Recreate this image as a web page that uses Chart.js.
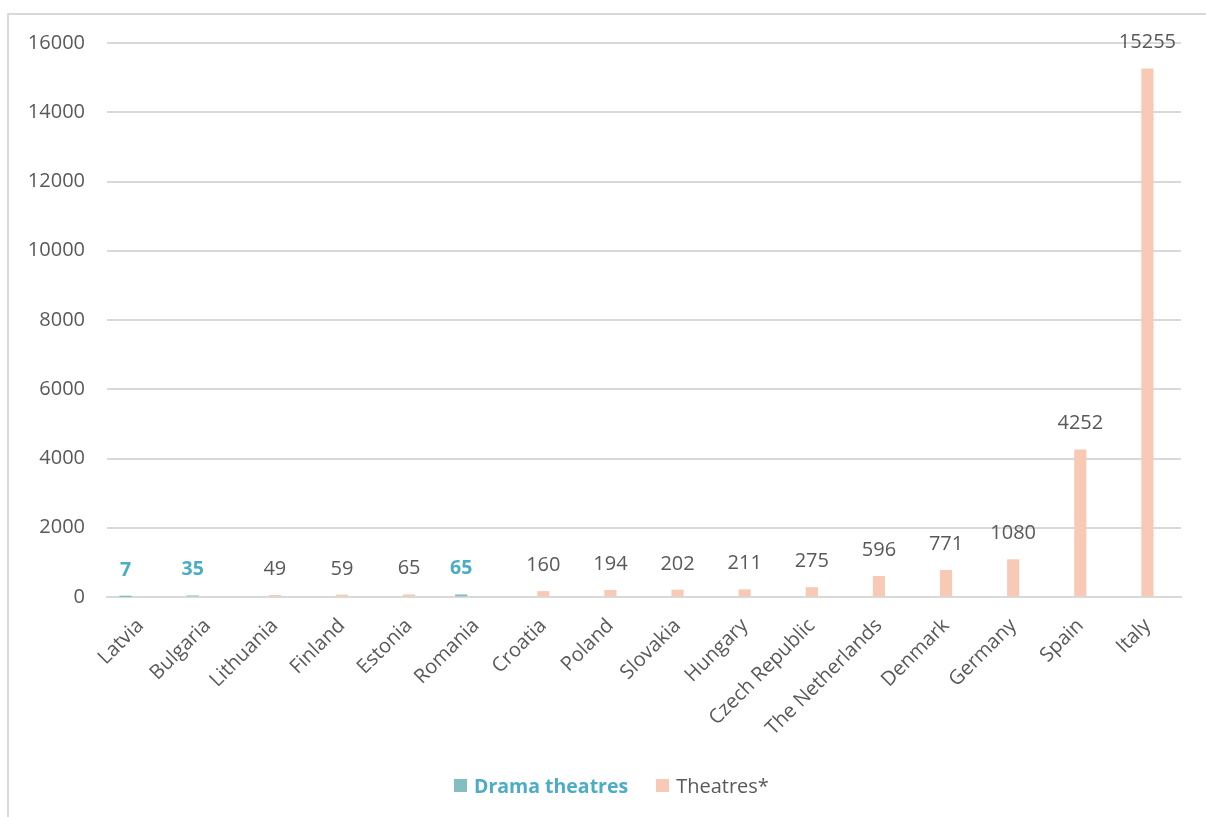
<!DOCTYPE html>
<html>
<head>
<meta charset="utf-8">
<script src="https://cdn.jsdelivr.net/npm/chart.js@4.4.0/dist/chart.umd.min.js"></script>
<style>
  html, body { margin: 0; padding: 0; background: #fff; overflow: hidden; }
  #frame {
    position: absolute; left: 7px; top: 13px; width: 1220px; height: 830px;
    border: 2px solid #d9d9d9; box-sizing: border-box;
  }
  #wrap { position: absolute; left: 0; top: 0; width: 1206px; height: 817px; }
  #legend {
    position: absolute; left: 454px; top: 772px;
    font-family: "Open Sans", sans-serif; font-size: 20px; color: #595959;
    display: flex; align-items: center;
  }
  .box { display: inline-block; width: 13px; height: 13px; margin-right: 7px; }
  .item { display: flex; align-items: center; margin-right: 28px; }
</style>
</head>
<body>
<div id="frame"></div>
<div id="wrap"><canvas id="chartTeatros"></canvas></div>
<div id="legend">
  <span class="item"><span class="box" style="background:#84bec0"></span><b style="color:#4bacc6;font-size:19.5px">Drama theatres</b></span>
  <span class="item"><span class="box" style="background:#f8cab6"></span>Theatres*</span>
</div>
<script>
// datos
const paises = ['Latvia', 'Bulgaria', 'Lithuania', 'Finland', 'Estonia', 'Romania', 'Croatia', 'Poland',
    'Slovakia', 'Hungary', 'Czech Republic', 'The Netherlands', 'Denmark', 'Germany', 'Spain', 'Italy'];
const dramaTheatres = [7, 35, null, null, null, 65, null, null, null, null, null, null, null, null, null, null];
const theatres = [null, null, 49, 59, 65, null, 160, 194, 202, 211, 275, 596, 771, 1080, 4252, 15255];
const yTicks = [0, 2000, 4000, 6000, 8000, 10000, 12000, 14000, 16000];

const gris = '#595959';

// etiquetas de valor encima de cada barra
const etiquetas = {
    id: 'etiquetas',
    afterDatasetsDraw(chart) {
        const ctx = chart.ctx;
        chart.data.datasets.forEach((ds, i) => {
            if (i > 1) return;
            const meta = chart.getDatasetMeta(i);
            meta.data.forEach((bar, j) => {
                const v = ds.data[j];
                if (v === null) return;
                ctx.save();
                ctx.font = (i === 0 ? 'bold 19.5px' : '20px') + ' "Open Sans"';
                ctx.fillStyle = i === 0 ? '#4bacc6' : gris;
                ctx.textAlign = 'center';
                ctx.textBaseline = 'middle';
                ctx.fillText(String(v), bar.x, bar.y - 26);
                ctx.restore();
            });
        });
    }
};

Chart.defaults.font.family = '"Open Sans", sans-serif';
Chart.defaults.font.size = 20;
Chart.defaults.color = gris;

new Chart(document.getElementById('chartTeatros'), {
    type: 'bar',
    data: {
        labels: paises,
        datasets: [{
            label: 'Drama theatres',
            data: dramaTheatres,
            backgroundColor: '#84bec0'
        }, {
            label: 'Theatres*',
            data: theatres,
            backgroundColor: '#f8cab6'
        }, {
            // hueco vacío del grupo (como en el original)
            label: '',
            data: paises.map(() => null)
        }]
    },
    options: {
        responsive: true,
        maintainAspectRatio: false,
        animation: false,
        layout: { padding: { left: 0, right: 25, top: 43, bottom: 0 } },
        datasets: { bar: { barThickness: 15, maxBarThickness: 11.5 } },
        plugins: {
            legend: { display: false },
            tooltip: { enabled: false }
        },
        scales: {
            x: {
                grid: { display: false },
                border: { color: '#d9d9d9', width: 2 },
                ticks: { minRotation: 45, maxRotation: 45, padding: 9, color: gris, font: { size: 20 } },
                afterFit(scale) { scale.height = 220; }
            },
            y: {
                min: 0,
                max: 16000,
                afterBuildTicks(scale) { scale.ticks = yTicks.map(v => ({ value: v })); },
                grid: { color: '#d9d9d9', lineWidth: 2, drawTicks: false },
                border: { display: false },
                ticks: { padding: 22, color: gris, font: { size: 20 }, callback: v => String(v) },
                afterFit(scale) { scale.width = 107; }
            }
        }
    },
    plugins: [etiquetas]
});
</script>
</body>
</html>
